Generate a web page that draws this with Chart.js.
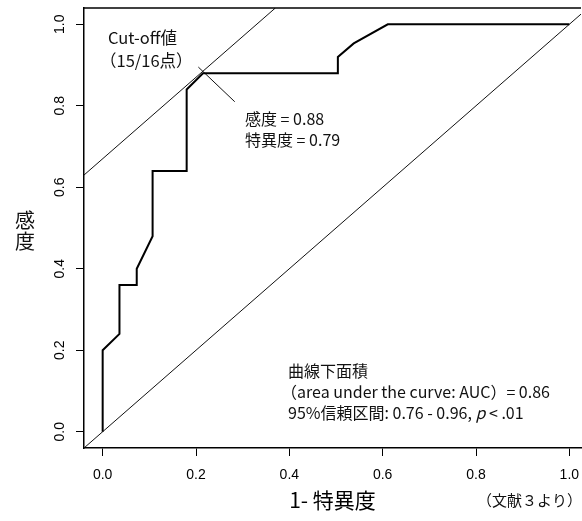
<!DOCTYPE html>
<html><head><meta charset="utf-8">
<script src="https://cdn.jsdelivr.net/npm/chart.js@4/dist/chart.umd.min.js"></script>
<style>html,body{margin:0;padding:0;background:#fff}canvas{display:block}</style>
</head><body>
<canvas id="c" width="582" height="521"></canvas>
<script>
// ---- data ----
const xTicks = [0, 0.2, 0.4, 0.6, 0.8, 1.0];
const yTicks = [0, 0.2, 0.4, 0.6, 0.8, 1.0];
const rocFpr = [0, 0, 0.036, 0.036, 0.073, 0.073, 0.107, 0.107, 0.18, 0.18, 0.215, 0.504, 0.504, 0.538, 0.611, 1.0];
const rocTpr = [0, 0.2, 0.24, 0.36, 0.36, 0.40, 0.48, 0.64, 0.64, 0.84, 0.88, 0.88, 0.92, 0.953, 1.0, 1.0];
const refX = [-0.04, 1.04];
const refY = [-0.04, 1.04];
const cutX = [-0.04, 0.37];
const cutY = [0.63, 1.04];
const markX = [0.205, 0.283];
const markY = [0.895, 0.81];
const xTitle = '1- 特異度';
const yTitle = ['感', '度'];
const cutoffLabel = ['Cut-off値', '（15/16点）'];
const pointLabel = ['感度 = 0.88', '特異度 = 0.79'];
const aucLabel = ['曲線下面積', '（area under the curve: AUC）= 0.86'];
const ciLabel = ['95%信頼区間: 0.76 - 0.96, ', 'p', ' < .01'];
const sourceLabel = '（文献３より）';

const zip = (xs, ys) => xs.map((x, i) => ({x, y: ys[i]}));
const JP = '"Noto Sans CJK JP", "Noto Sans", sans-serif';
const LAT = '"Liberation Sans", Arial, sans-serif';
const noPad = s => { s.paddingLeft = 0; s.paddingRight = 0; s.paddingTop = 0; s.paddingBottom = 0; };

const annot = {
  id: 'annot',
  afterDraw(chart) {
    const {ctx, chartArea: a} = chart;
    ctx.save();
    ctx.strokeStyle = '#000';
    ctx.lineWidth = 1.5;
    ctx.beginPath();
    ctx.moveTo(a.left, a.top);
    ctx.lineTo(a.right, a.top);
    ctx.stroke();
    ctx.fillStyle = '#111';
    ctx.textBaseline = 'middle';
    ctx.textAlign = 'left';
    ctx.font = '16.5px ' + JP;
    ctx.fillText(cutoffLabel[0], 108, 38);
    ctx.fillText(cutoffLabel[1], 100, 61);
    ctx.font = '16px ' + JP;
    ctx.fillText(pointLabel[0], 245, 119);
    ctx.fillText(pointLabel[1], 245, 140);
    ctx.fillText(aucLabel[0], 288, 371);
    ctx.fillText(aucLabel[1], 281, 392);
    let x = 288;
    ctx.fillText(ciLabel[0], x, 413);
    x += ctx.measureText(ciLabel[0]).width;
    ctx.font = 'italic 16px ' + JP;
    ctx.fillText(ciLabel[1], x, 413);
    x += ctx.measureText(ciLabel[1]).width;
    ctx.font = '16px ' + JP;
    ctx.fillText(ciLabel[2], x, 413);
    ctx.font = '20px ' + JP;
    ctx.textAlign = 'center';
    ctx.fillText(yTitle[0], 25, 220);
    ctx.fillText(yTitle[1], 25, 241);
    ctx.font = '15px ' + JP;
    ctx.textAlign = 'right';
    ctx.fillText(sourceLabel, 582, 500);
    ctx.restore();
  }
};

new Chart(document.getElementById('c'), {
  type: 'scatter',
  data: {
    datasets: [
      {data: zip(rocFpr, rocTpr), showLine: true, borderColor: '#000', borderWidth: 2, pointRadius: 0, tension: 0},
      {data: zip(refX, refY), showLine: true, borderColor: '#111', borderWidth: 1, pointRadius: 0},
      {data: zip(cutX, cutY), showLine: true, borderColor: '#111', borderWidth: 1, pointRadius: 0},
      {data: zip(markX, markY), showLine: true, borderColor: '#111', borderWidth: 1, pointRadius: 0}
    ]
  },
  options: {
    responsive: false,
    animation: false,
    layout: {padding: {top: 8, right: 1, left: 0, bottom: 0}},
    plugins: {legend: {display: false}, tooltip: {enabled: false}},
    scales: {
      x: {
        type: 'linear', min: -0.04, max: 1.025,
        afterBuildTicks: s => { s.ticks = xTicks.map(v => ({value: v})); },
        afterFit: s => { s.height = 73; noPad(s); },
        grid: {drawOnChartArea: false, drawTicks: true, tickLength: 8, color: '#000', lineWidth: 1},
        border: {display: true, color: '#000', width: 1.5},
        ticks: {color: '#000', font: {family: LAT, size: 14}, padding: 11, maxRotation: 0, callback: v => v.toFixed(1)},
        title: {display: true, text: xTitle, color: '#000', font: {family: JP, size: 21}, padding: {top: 0, bottom: 8}}
      },
      y: {
        type: 'linear', min: -0.04, max: 1.04,
        afterBuildTicks: s => { s.ticks = yTicks.map(v => ({value: v})); },
        afterFit: s => { s.width = 84; noPad(s); },
        grid: {drawOnChartArea: false, drawTicks: true, tickLength: 8, color: '#000', lineWidth: 1},
        border: {display: true, color: '#000', width: 1.5},
        ticks: {color: '#000', font: {family: LAT, size: 14}, padding: 6, minRotation: 90, maxRotation: 90, crossAlign: 'center', callback: v => v.toFixed(1)}
      }
    }
  },
  plugins: [annot]
});
</script>
</body></html>
